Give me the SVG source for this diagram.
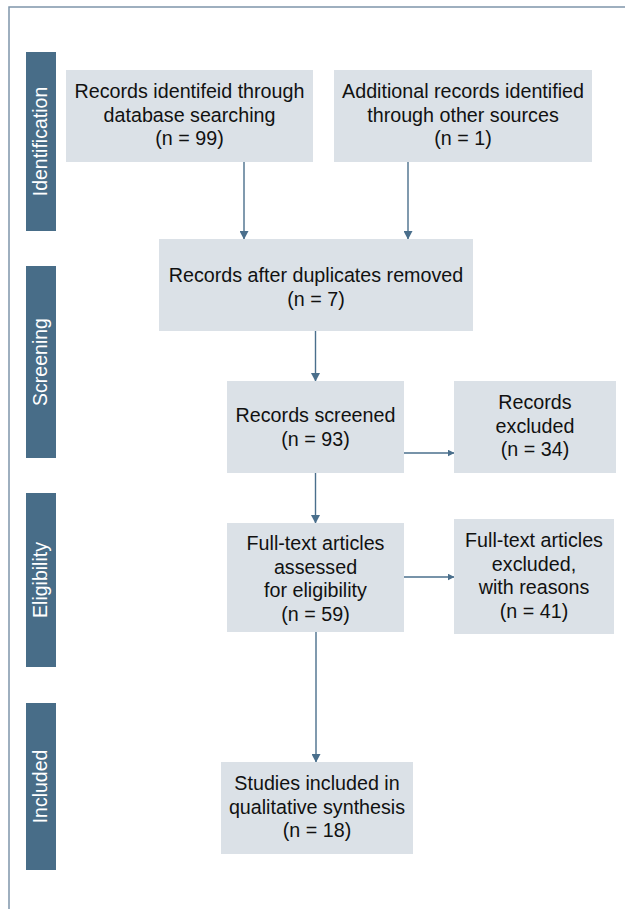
<svg xmlns="http://www.w3.org/2000/svg" width="625" height="909" viewBox="0 0 625 909">
  <defs>
    <style>
      .box { fill: #dbe1e7; }
      .bar { fill: #486d88; }
      .t { font-family: "Liberation Sans", Arial, sans-serif; font-size: 19.7px; fill: #111; text-anchor: middle; }
      .side { font-family: "Liberation Sans", Arial, sans-serif; font-size: 19.5px; fill: #ffffff; text-anchor: middle; }
      .conn { stroke: #4a6f8c; stroke-width: 1.4; fill: none; }
      .frame { stroke: #7f95aa; stroke-width: 1.5; fill: none; }
    </style>
    <marker id="arrV" markerWidth="9" markerHeight="9" refX="8" refY="4.5" orient="auto" markerUnits="userSpaceOnUse">
      <path d="M0,0 L8.5,4.5 L0,9 Z" fill="#4a6f8c"/>
    </marker>
    <marker id="arrH" markerWidth="7" markerHeight="7" refX="6.5" refY="3.5" orient="auto" markerUnits="userSpaceOnUse">
      <path d="M0,0 L7,3.5 L0,7 Z" fill="#4a6f8c"/>
    </marker>
  </defs>
  <rect x="0" y="0" width="625" height="909" fill="#ffffff"/>
  <path class="frame" d="M9,909 L9,7 L625,7"/>

  <g id="stage-identification">
    <rect class="bar" x="26" y="52" width="30" height="179"/>
    <text class="side" transform="translate(47,141.5) rotate(-90)">Identification</text>
  </g>
  <g id="stage-screening">
    <rect class="bar" x="26" y="266" width="30" height="192"/>
    <text class="side" transform="translate(47,362) rotate(-90)">Screening</text>
  </g>
  <g id="stage-eligibility">
    <rect class="bar" x="26" y="493" width="30" height="174"/>
    <text class="side" transform="translate(47,580) rotate(-90)">Eligibility</text>
  </g>
  <g id="stage-included">
    <rect class="bar" x="26" y="703" width="30" height="167"/>
    <text class="side" transform="translate(47,786.5) rotate(-90)">Included</text>
  </g>

  <g id="connectors">
    <line class="conn" x1="244" y1="162" x2="244" y2="239" marker-end="url(#arrV)"/>
    <line class="conn" x1="408" y1="162" x2="408" y2="239" marker-end="url(#arrV)"/>
    <line class="conn" x1="315.5" y1="331" x2="315.5" y2="381" marker-end="url(#arrV)"/>
    <line class="conn" x1="404" y1="453" x2="454" y2="453" marker-end="url(#arrH)"/>
    <line class="conn" x1="315.5" y1="473" x2="315.5" y2="523" marker-end="url(#arrV)"/>
    <line class="conn" x1="404" y1="577" x2="454" y2="577" marker-end="url(#arrH)"/>
    <line class="conn" x1="316" y1="632" x2="316" y2="762" marker-end="url(#arrV)"/>
  </g>

  <g id="node-database">
    <rect class="box" x="66" y="70" width="247" height="92"/>
    <text class="t" x="189.5" y="98">Records identifeid through</text>
    <text class="t" x="189.5" y="121.5">database searching</text>
    <text class="t" x="189.5" y="145">(n = 99)</text>
  </g>
  <g id="node-other">
    <rect class="box" x="334" y="70" width="258" height="92"/>
    <text class="t" x="463" y="98">Additional records identified</text>
    <text class="t" x="463" y="121.5">through other sources</text>
    <text class="t" x="463" y="145">(n = 1)</text>
  </g>
  <g id="node-duplicates">
    <rect class="box" x="159" y="239" width="314" height="92"/>
    <text class="t" x="316" y="282">Records after duplicates removed</text>
    <text class="t" x="316" y="305.5">(n = 7)</text>
  </g>
  <g id="node-screened">
    <rect class="box" x="227" y="381" width="177" height="92"/>
    <text class="t" x="315.5" y="422">Records screened</text>
    <text class="t" x="315.5" y="445.5">(n = 93)</text>
  </g>
  <g id="node-excluded">
    <rect class="box" x="454" y="381" width="162" height="92"/>
    <text class="t" x="535" y="409">Records</text>
    <text class="t" x="535" y="432.5">excluded</text>
    <text class="t" x="535" y="456">(n = 34)</text>
  </g>
  <g id="node-fulltext">
    <rect class="box" x="227" y="523" width="177" height="109"/>
    <text class="t" x="315.5" y="550">Full-text articles</text>
    <text class="t" x="315.5" y="573.5">assessed</text>
    <text class="t" x="315.5" y="597">for eligibility</text>
    <text class="t" x="315.5" y="620.5">(n = 59)</text>
  </g>
  <g id="node-fulltext-excluded">
    <rect class="box" x="454" y="519" width="160" height="115"/>
    <text class="t" x="534" y="547">Full-text articles</text>
    <text class="t" x="534" y="570.5">excluded,</text>
    <text class="t" x="534" y="594">with reasons</text>
    <text class="t" x="534" y="617.5">(n = 41)</text>
  </g>
  <g id="node-included">
    <rect class="box" x="221" y="762" width="192" height="92"/>
    <text class="t" x="317" y="790">Studies included in</text>
    <text class="t" x="317" y="813.5">qualitative synthesis</text>
    <text class="t" x="317" y="837">(n = 18)</text>
  </g>
</svg>
